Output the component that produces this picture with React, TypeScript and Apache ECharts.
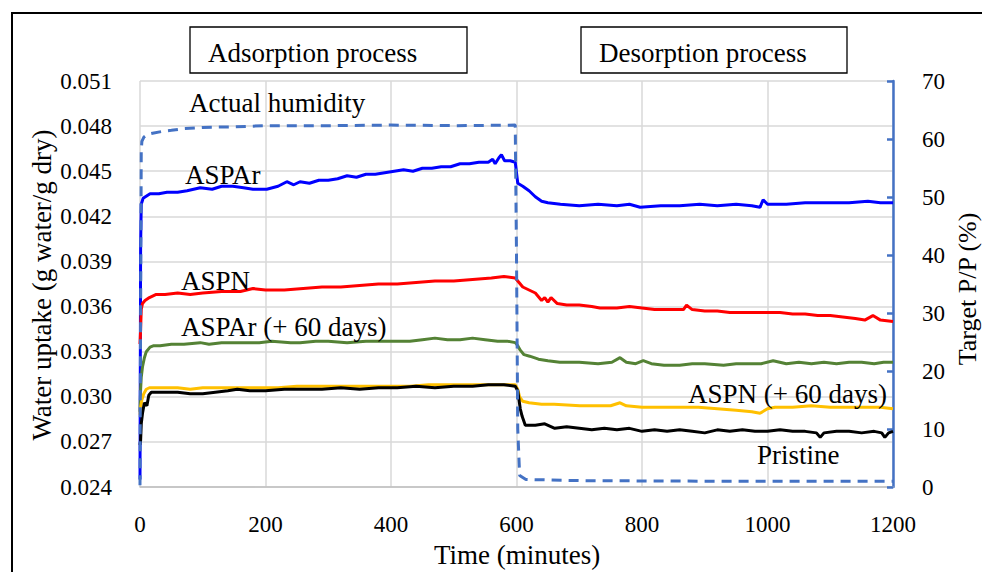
import React, { useEffect, useRef } from "react";
import * as echarts from "echarts";

const xTicks = [0, 200, 400, 600, 800, 1000, 1200];

const humidity: [number, number][] = [
  [0, 0.3], [1, 30], [2, 58], [3, 59.6], [6, 60.3], [12, 60.8], [20, 61.0], [35, 61.3], [50, 61.5],
  [70, 61.8], [100, 62.0], [150, 62.1], [200, 62.3], [300, 62.3], [400, 62.4], [500, 62.3],
  [598, 62.4], [600, 40], [602, 10], [605, 2.0], [615, 1.3], [700, 1.1], [900, 1.0], [1200, 1.0],
];

const aspar: [number, number][] = [
  [0, 0.0245], [1, 0.0400], [2, 0.0428], [5, 0.0432], [16, 0.0435], [30, 0.0435], [43, 0.0436],
  [60, 0.0436], [75, 0.0437], [96, 0.0439], [115, 0.0438], [130, 0.0440], [148, 0.0440],
  [165, 0.0439], [180, 0.0438], [202, 0.0438], [220, 0.0440], [234, 0.0443], [245, 0.0441],
  [255, 0.0443], [270, 0.0442], [285, 0.0444], [300, 0.0444], [315, 0.0445], [330, 0.0447],
  [345, 0.0446], [360, 0.0448], [375, 0.0448], [390, 0.0449], [405, 0.0450], [420, 0.0451],
  [435, 0.0450], [450, 0.0452], [465, 0.0452], [480, 0.0453], [495, 0.0453], [510, 0.0455],
  [525, 0.0455], [540, 0.0456], [555, 0.0456], [562, 0.0458], [566, 0.0455], [572, 0.0459],
  [576, 0.0461], [581, 0.0457], [590, 0.0457], [598, 0.0456], [600, 0.0449], [602, 0.0442],
  [610, 0.0440], [620, 0.0437], [630, 0.0433], [640, 0.0430], [650, 0.0429], [670, 0.0428],
  [700, 0.0427], [730, 0.0428], [760, 0.0427], [780, 0.0428], [797, 0.0426], [830, 0.0427],
  [860, 0.0427], [892, 0.0428], [920, 0.0427], [950, 0.0428], [975, 0.0427], [988, 0.0426],
  [993, 0.0431], [1000, 0.0428], [1030, 0.0428], [1060, 0.0429], [1096, 0.0429], [1130, 0.0429],
  [1160, 0.0430], [1180, 0.0429], [1200, 0.0429],
];

const aspn: [number, number][] = [
  [0, 0.0335], [1, 0.0345], [2, 0.0358], [4, 0.0362], [8, 0.0364], [15, 0.0366], [25, 0.0368],
  [40, 0.0368], [60, 0.0369], [80, 0.0368], [100, 0.0369], [130, 0.0370], [160, 0.0370],
  [180, 0.0372], [200, 0.0371], [230, 0.0371], [260, 0.0372], [290, 0.0373], [320, 0.0373],
  [350, 0.0374], [380, 0.0375], [410, 0.0375], [440, 0.0376], [470, 0.0377], [500, 0.0377],
  [530, 0.0378], [560, 0.0379], [580, 0.0380], [598, 0.0379], [602, 0.0377], [610, 0.0373],
  [620, 0.0371], [630, 0.0369], [640, 0.0364], [645, 0.0366], [650, 0.0363], [655, 0.0366],
  [665, 0.0362], [680, 0.0361], [700, 0.0361], [720, 0.0360], [733, 0.0359], [760, 0.0359],
  [780, 0.0360], [800, 0.0359], [820, 0.0358], [845, 0.0358], [866, 0.0358], [871, 0.0361],
  [880, 0.0358], [900, 0.0357], [920, 0.0357], [940, 0.0356], [960, 0.0356], [980, 0.0356],
  [1004, 0.0356], [1020, 0.0356], [1040, 0.0355], [1060, 0.0355], [1080, 0.0354], [1100, 0.0354],
  [1120, 0.0353], [1140, 0.0352], [1155, 0.0351], [1168, 0.0354], [1180, 0.0351], [1200, 0.0350],
];

const asparAged: [number, number][] = [
  [0, 0.0290], [1, 0.0305], [2, 0.0313], [4, 0.0320], [7, 0.0326], [10, 0.0330], [16, 0.0333],
  [22, 0.0334], [32, 0.0334], [50, 0.0335], [70, 0.0335], [96, 0.0336], [110, 0.0335],
  [130, 0.0336], [150, 0.0336], [175, 0.0336], [190, 0.0336], [210, 0.0337], [240, 0.0336],
  [255, 0.0336], [280, 0.0337], [300, 0.0337], [330, 0.0336], [360, 0.0337], [385, 0.0337],
  [414, 0.0337], [430, 0.0337], [450, 0.0338], [470, 0.0339], [490, 0.0338], [510, 0.0338],
  [530, 0.0339], [550, 0.0338], [570, 0.0337], [585, 0.0337], [598, 0.0336], [602, 0.0334],
  [606, 0.0331], [612, 0.0328], [621, 0.0327], [635, 0.0325], [650, 0.0324], [669, 0.0323],
  [700, 0.0323], [730, 0.0322], [752, 0.0323], [765, 0.0326], [775, 0.0323], [790, 0.0322],
  [802, 0.0324], [815, 0.0322], [835, 0.0321], [860, 0.0321], [880, 0.0322], [900, 0.0322],
  [930, 0.0321], [950, 0.0322], [970, 0.0322], [990, 0.0322], [1009, 0.0324], [1030, 0.0322],
  [1050, 0.0323], [1070, 0.0322], [1090, 0.0323], [1110, 0.0322], [1130, 0.0323], [1150, 0.0323],
  [1170, 0.0322], [1185, 0.0323], [1200, 0.0323],
];

const aspnAged: [number, number][] = [
  [0, 0.0288], [1, 0.0293], [3, 0.0298], [6, 0.0302], [10, 0.0305], [15, 0.0306], [25, 0.0306],
  [43, 0.0306], [60, 0.0306], [80, 0.0305], [100, 0.0306], [130, 0.0306], [160, 0.0306],
  [190, 0.0306], [220, 0.0306], [250, 0.0307], [280, 0.0307], [310, 0.0307], [340, 0.0307],
  [370, 0.0307], [400, 0.0307], [430, 0.0307], [460, 0.0308], [490, 0.0308], [520, 0.0308],
  [550, 0.0308], [575, 0.0308], [598, 0.0308], [602, 0.0305], [605, 0.0300], [610, 0.0297],
  [620, 0.0296], [640, 0.0295], [660, 0.0295], [701, 0.0294], [720, 0.0294], [750, 0.0294],
  [765, 0.0296], [775, 0.0294], [800, 0.0293], [830, 0.0293], [860, 0.0293], [890, 0.0293],
  [920, 0.0292], [950, 0.0291], [975, 0.0290], [988, 0.0289], [1000, 0.0292], [1012, 0.0293],
  [1040, 0.0293], [1070, 0.0294], [1100, 0.0293], [1130, 0.0293], [1160, 0.0293], [1180, 0.0293],
  [1200, 0.0292],
];

const pristine: [number, number][] = [
  [0, 0.0268], [1, 0.0271], [2, 0.0282], [4, 0.0289], [7, 0.0296], [11, 0.0294], [14, 0.0301],
  [18, 0.0303], [25, 0.0303], [35, 0.0303], [43, 0.0303], [60, 0.0303], [80, 0.0302],
  [100, 0.0302], [120, 0.0303], [140, 0.0304], [155, 0.0305], [175, 0.0304], [200, 0.0304],
  [230, 0.0305], [260, 0.0305], [290, 0.0305], [320, 0.0306], [350, 0.0305], [380, 0.0306],
  [410, 0.0306], [440, 0.0307], [470, 0.0306], [500, 0.0307], [530, 0.0307], [555, 0.0308],
  [580, 0.0308], [598, 0.0307], [602, 0.0304], [606, 0.0292], [609, 0.0287], [614, 0.0281],
  [630, 0.0281], [645, 0.0282], [661, 0.0279], [680, 0.0280], [700, 0.0279], [720, 0.0278],
  [740, 0.0279], [760, 0.0278], [780, 0.0279], [800, 0.0277], [820, 0.0278], [840, 0.0277],
  [860, 0.0278], [880, 0.0277], [900, 0.0276], [920, 0.0278], [940, 0.0277], [960, 0.0278],
  [980, 0.0277], [1000, 0.0277], [1020, 0.0278], [1040, 0.0277], [1060, 0.0277], [1078, 0.0276],
  [1084, 0.0273], [1090, 0.0276], [1110, 0.0277], [1130, 0.0277], [1150, 0.0276], [1170, 0.0277],
  [1182, 0.0276], [1187, 0.0273], [1193, 0.0276], [1200, 0.0277],
];

const FONT = "'Liberation Serif', 'Times New Roman', serif";

export default function App() {
  const ref = useRef<HTMLDivElement>(null);
  useEffect(() => {
    if (!ref.current) return;
    const chart = echarts.init(ref.current, null, { renderer: "svg" });
    const line = (name: string, data: [number, number][], color: string) => ({
      name,
      type: "line",
      data,
      showSymbol: false,
      symbol: "none",
      lineStyle: { color, width: 3 },
      itemStyle: { color },
      yAxisIndex: 0,
    });
    const txt = (text: string, x: number, y: number, extra: any = {}) => ({
      type: "text",
      z: 100,
      x,
      y,
      style: {
        text,
        fill: "#000",
        font: `27px ${FONT}`,
        verticalAlign: "middle",
        ...extra,
      },
    });
    chart.setOption({
      animation: false,
      backgroundColor: "#fff",
      grid: { left: 140, right: 89, top: 81, bottom: 85 },
      xAxis: {
        type: "value",
        min: 0,
        max: 1200,
        interval: 200,
        axisLine: { show: true, lineStyle: { color: "#BFBFBF", width: 1.5 } },
        axisTick: { show: false },
        axisLabel: {
          margin: 26,
          color: "#000",
          fontSize: 23,
          fontFamily: FONT,
          formatter: (v: number) => String(v),
        },
        splitLine: { show: true, lineStyle: { color: "#D9D9D9", width: 1.5 } },
      },
      yAxis: [
        {
          type: "value",
          min: 0.024,
          max: 0.051,
          interval: 0.003,
          axisLine: { show: false },
          axisTick: { show: false },
          axisLabel: {
            margin: 28,
            color: "#000",
            fontSize: 23,
            fontFamily: FONT,
            formatter: (v: number) => v.toFixed(3),
          },
          splitLine: { show: true, lineStyle: { color: "#D9D9D9", width: 1.5 } },
        },
        {
          type: "value",
          position: "right",
          min: 0,
          max: 70,
          interval: 10,
          axisLine: { show: true, lineStyle: { color: "#4472C4", width: 2.5 } },
          axisTick: { show: true, inside: true, length: 6, lineStyle: { color: "#4472C4", width: 2.5 } },
          axisLabel: { margin: 29, color: "#000", fontSize: 23, fontFamily: FONT },
          splitLine: { show: false },
        },
      ],
      series: [
        line("ASPAr", aspar, "#0000FF"),
        line("ASPN", aspn, "#FF0000"),
        line("ASPAr (+ 60 days)", asparAged, "#548235"),
        line("ASPN (+ 60 days)", aspnAged, "#FFC000"),
        line("Pristine", pristine, "#000000"),
        {
          name: "Actual humidity",
          type: "line",
          yAxisIndex: 1,
          data: humidity,
          showSymbol: false,
          symbol: "none",
          lineStyle: { color: "#4472C4", width: 3, type: [10, 7] },
          itemStyle: { color: "#4472C4" },
        },
      ],
      graphic: [
        {
          type: "rect",
          z: 90,
          shape: { x: 12, y: 13, width: 1000, height: 600 },
          style: { fill: "none", stroke: "#000", lineWidth: 2 },
        },
        {
          type: "rect",
          z: 90,
          shape: { x: 190, y: 27, width: 277, height: 46 },
          style: { fill: "#fff", stroke: "#000", lineWidth: 1.3 },
        },
        {
          type: "rect",
          z: 90,
          shape: { x: 581, y: 27, width: 266, height: 46 },
          style: { fill: "#fff", stroke: "#000", lineWidth: 1.3 },
        },
        txt("Adsorption process", 208, 53),
        txt("Desorption process", 599, 53),
        txt("Actual humidity", 189, 103),
        txt("ASPAr", 185, 175),
        txt("ASPN", 181, 281),
        txt("ASPAr (+ 60 days)", 181, 327),
        txt("ASPN (+ 60 days)", 688, 394),
        txt("Pristine", 757, 455),
        txt("Time (minutes)", 517, 555, { align: "center" }),
        {
          type: "text",
          z: 100,
          x: 42,
          y: 285,
          rotation: Math.PI / 2,
          style: {
            text: "Water uptake (g water/g dry)",
            fill: "#000",
            font: `27px ${FONT}`,
            align: "center",
            verticalAlign: "middle",
          },
        },
        {
          type: "text",
          z: 100,
          x: 967,
          y: 289,
          rotation: Math.PI / 2,
          style: {
            text: "Target P/P (%)",
            fill: "#000",
            font: `26px ${FONT}`,
            align: "center",
            verticalAlign: "middle",
          },
        },
      ],
    });
    return () => chart.dispose();
  }, []);
  return (
    <div
      ref={ref}
      style={{ position: "fixed", left: 0, top: 0, width: 982, height: 572 }}
    />
  );
}
